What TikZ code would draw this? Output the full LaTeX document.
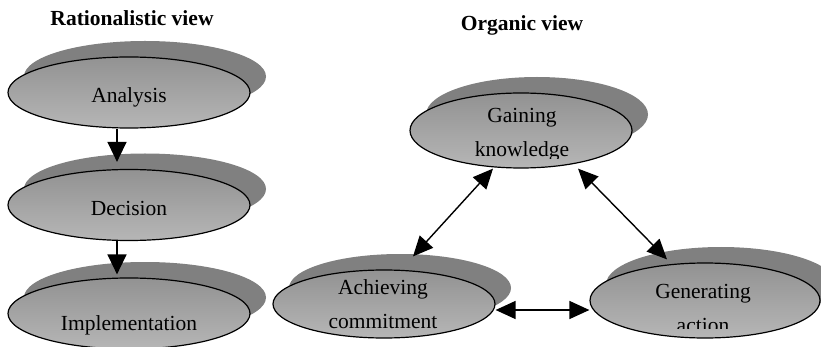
\documentclass[tikz,border=0pt]{standalone}
\usepackage{fontspec}
\setmainfont{Liberation Serif}
\usetikzlibrary{shapes.geometric,shadows,arrows.meta}
\definecolor{shadowgray}{RGB}{128,128,128}
\definecolor{fillTop}{RGB}{146,146,146}
\definecolor{fillBot}{RGB}{182,182,182}
\begin{document}
\begin{tikzpicture}[x=1pt,y=-1pt,
  bubble/.style={ellipse, draw=black, line width=1.2pt, top color=fillTop, bottom color=fillBot,
    inner sep=0pt, general shadow={fill=shadowgray, shadow xshift=16pt, shadow yshift=16pt}},
  caption/.style={font=\fontsize{21.5}{34}\selectfont, align=center, inner sep=0pt},
  heading/.style={font=\fontsize{21.5}{25}\selectfont\bfseries, inner sep=0pt},
  flow/.style={line width=1.4pt, -{Triangle[length=20pt,width=19pt]}},
  link/.style={line width=1.4pt, {Triangle[length=20pt,width=18pt]}-{Triangle[length=20pt,width=18pt]}}]
\useasboundingbox (0,0) rectangle (821,347);

% headings
\node[heading] (hr) at (132,18) {Rationalistic view};
\node[heading] (ho) at (522,25) {Organic view};

% rationalistic chain
\node[bubble, minimum width=242pt, minimum height=71pt] (an) at (129,92.5) {};
\node[bubble, minimum width=242pt, minimum height=71pt] (de) at (129,205) {};
\node[bubble, minimum width=242pt, minimum height=71pt] (im) at (129,313.5) {};
\node[caption] (tan) at (129,97) {Analysis};
\node[caption] (tde) at (129,208) {Decision};
\node[caption] (tim) at (129,325) {Implementation};

\draw[flow] ([xshift=-12pt]an.south) -- ([xshift=-12pt,yshift=7pt]de.north);
\draw[flow] ([xshift=-12pt]de.south) -- ([xshift=-12pt,yshift=3pt]im.north);

% organic cycle
\node[bubble, minimum width=222pt, minimum height=75pt] (gk) at (521,130.5) {};
\node[bubble, minimum width=222pt, minimum height=68pt] (ac) at (384,304) {};
\node[bubble, minimum width=230pt, minimum height=75pt] (ga) at (705,300.5) {};

\begin{scope}
  \clip (400,80) rectangle (650,159);
  \node[caption] (tgk) at (522,135) {Gaining\\knowledge};
\end{scope}
\node[caption] (tac) at (383,304) {Achieving\\commitment};
\begin{scope}
  \clip (580,250) rectangle (821,328);
  \node[caption] (tga) at (703,308) {Generating\\action};
\end{scope}

\draw[link] ([xshift=-28pt]gk.south) -- ([xshift=29pt,yshift=13pt]ac.north);
\draw[link] ([xshift=57pt]gk.south) -- ([xshift=-38pt,yshift=3pt]ga.north);
\draw[link] ([yshift=-6pt]ac.east) -- ([yshift=-9.5pt]ga.west);
\end{tikzpicture}
\end{document}
